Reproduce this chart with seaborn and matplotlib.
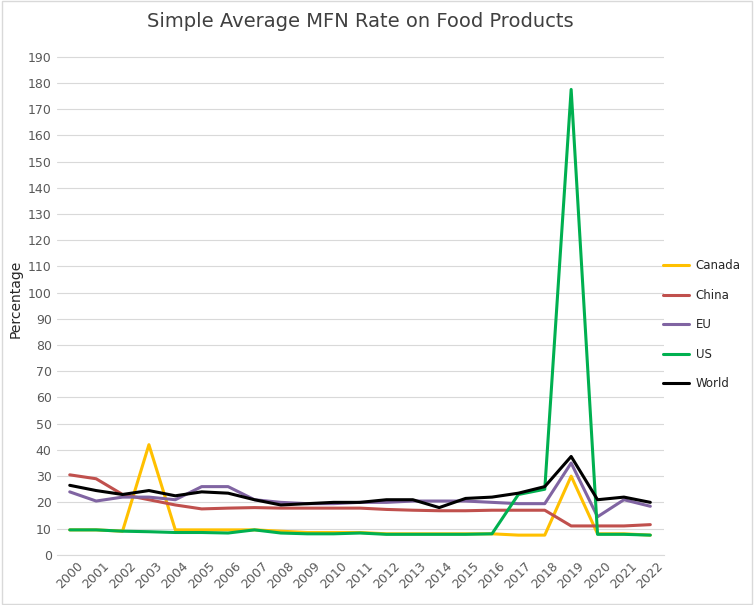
import matplotlib
matplotlib.use("Agg")
import matplotlib.pyplot as plt
import seaborn as sns
import pandas as pd

years = [str(y) for y in range(2000, 2023)]
canada = [9.5,9.5,9,42,9.5,9.5,9.5,9.5,9,8.5,8.5,8.5,8,8,8,8,8,7.5,7.5,30,8,8,7.5]
china = [30.5,29,23,21,19,17.5,17.8,18,17.8,17.8,17.8,17.8,17.3,17,16.8,16.8,17,17,17,11,11,11,11.5]
eu = [24,20.5,22,22,21,26,26,21,20,19.5,19.5,20,20,20.5,20.5,20.5,20,19.5,19.5,35,14.5,21,18.5]
us = [9.5,9.5,9,8.8,8.5,8.5,8.3,9.5,8.3,8,8,8.3,7.8,7.8,7.8,7.8,8,23,25,177.5,7.8,7.8,7.5]
world = [26.5,24.5,23,24.5,22.5,24,23.5,21,19,19.5,20,20,21,21,18,21.5,22,23.5,26,37.5,21,22,20]

series = {"Canada": canada, "China": china, "EU": eu, "US": us, "World": world}
colors = {"Canada": "#FFC000", "China": "#C0504D", "EU": "#8064A2", "US": "#00B050", "World": "#000000"}
rows = []
for name, vals in series.items():
    for i, v in enumerate(vals):
        rows.append({"Year": i, "Value": v, "Series": name})
df = pd.DataFrame(rows)

sns.set_style("white")
fig = plt.figure(figsize=(7.54, 6.05), dpi=100)
ax = fig.add_axes([0.075, 0.083, 0.805, 0.845])
sns.lineplot(data=df, x="Year", y="Value", hue="Series", palette=colors, linewidth=2.2, ax=ax)
ax.set_ylim(0, 195)
ax.set_xlim(-0.5, 22.5)
ax.set_yticks(range(0, 200, 10))
ax.set_xticks(range(len(years)))
ax.set_xticklabels(years, rotation=45, fontsize=9, color="#595959")
ax.tick_params(axis="y", labelsize=9, labelcolor="#595959", length=0)
ax.tick_params(axis="x", length=0)
ax.grid(axis="y", color="#D9D9D9", linewidth=0.8)
for s in ["top", "right", "left"]:
    ax.spines[s].set_visible(False)
ax.spines["bottom"].set_color("#D9D9D9")
ax.set_xlabel("")
ax.set_ylabel("Percentage", fontsize=10)
ax.set_title("Simple Average MFN Rate on Food Products", fontsize=14, color="#404040", pad=12)
ax.legend(loc="center left", bbox_to_anchor=(0.985, 0.45), frameon=False, fontsize=8.5,
          labelspacing=1.4, handlelength=2.2, handletextpad=0.6, borderpad=0.2)
fig.patches.append(plt.Rectangle((0.002, 0.002), 0.996, 0.996, transform=fig.transFigure, fill=False, edgecolor="#D9D9D9", linewidth=1))
fig.savefig("out.png", dpi=100)
